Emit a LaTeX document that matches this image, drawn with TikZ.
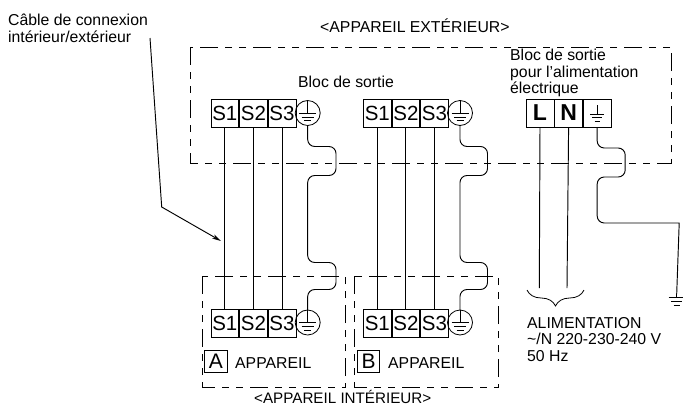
\documentclass[tikz,border=0pt]{standalone}
\usepackage{fontspec}
\setmainfont{Liberation Sans}
\usetikzlibrary{matrix,arrows.meta,decorations.pathreplacing}
\tikzset{
  lbl/.style={inner sep=0pt, anchor=west, align=left, font=\fontsize{15.8}{16.8}\selectfont},
  term/.style={draw, line width=0.8pt, anchor=center, minimum width=27.8pt, minimum height=28pt, inner sep=0pt, outer sep=0pt, font=\fontsize{20.5}{20.5}\selectfont},
  tblock/.style={matrix of nodes, nodes={term}, nodes in empty cells, anchor=west, inner sep=0pt, outer sep=0pt, column sep=0pt},
  unitbox/.style={draw, line width=0.8pt, minimum width=22.5pt, minimum height=22.5pt, inner sep=0pt, font=\fontsize{21}{21}\selectfont},
  zone/.style={line width=0.9pt, dash pattern=on 18pt off 7pt on 7pt off 7pt on 7pt off 7pt},
  wire/.style={line width=0.95pt},
  gwire/.style={line width=0.95pt, rounded corners=7pt},
  pe/.style={circle, draw, line width=0.8pt, minimum size=25pt, inner sep=0pt, outer sep=0pt, path picture={
    \draw[line width=0.8pt, shift={(path picture bounding box.center)}]
      (0,-12.5) -- (0,0) (-8.5,0) -- (8.5,0) (-6,4) -- (6,4) (-3.5,7.5) -- (3.5,7.5);}},
  tgnd/.style={path picture={
    \draw[line width=0.8pt, shift={(path picture bounding box.center)}]
      (0,-8) -- (0,1) (-7,1) -- (7,1) (-5,4.7) -- (5,4.7) (-2.5,8) -- (2.5,8);}},
  earth/.style={minimum size=20pt, inner sep=0pt, outer sep=0pt, path picture={
    \draw[line width=0.8pt, shift={(path picture bounding box.center)}]
      (0,-10) -- (0,-6.3) (-8,-6.3) -- (8,-6.3) (-5.5,-2.8) -- (5.5,-2.8) (-3,1.7) -- (3,1.7);}},
}
\begin{document}
\begin{tikzpicture}[x=1pt, y=-1pt]
  \useasboundingbox (0,0) rectangle (683,405);

  \draw[zone] (190,47) rectangle (671,163);
  \draw[zone] (202,276) rectangle (345,387);
  \draw[zone] (354,276) rectangle (498,387);

  \matrix (oa) [tblock] at (210.5,113) { S1 & S2 & S3 \\ };
  \matrix (ob) [tblock] at (363,113) { S1 & S2 & S3 \\ };
  \matrix (ia) [tblock] at (210.5,323) { S1 & S2 & S3 \\ };
  \matrix (ib) [tblock] at (363,323) { S1 & S2 & S3 \\ };
  \matrix (pw) [tblock, nodes={font=\fontsize{23}{23}\selectfont\bfseries}] at (525.7,113) { L & N & |[tgnd]| \\ };

  \node (oga) [pe] at (307.7,113) {};
  \node (ogb) [pe] at (460,113) {};
  \node (iga) [pe] at (307.7,322.5) {};
  \node (igb) [pe] at (460,322.5) {};
  \node (gnd) [earth] at (676.7,304) {};

  \node (ua) [unitbox] at (216,361.5) {A};
  \node (ub) [unitbox] at (368.5,361.5) {B};
  \node (uatext) [lbl] at (235,363) {APPAREIL};
  \node (ubtext) [lbl] at (388,363) {APPAREIL};

  \node (ext) [lbl] at (320,26) {<APPAREIL EXTÉRIEUR>};
  \node (int) [lbl, font=\fontsize{15.2}{16}\selectfont] at (254,396.5) {<APPAREIL INTÉRIEUR>};
  \node (bloc) [lbl] at (298,82) {Bloc de sortie};
  \node (blocp) [lbl] at (510,73) {Bloc de sortie\\pour l’alimentation\\électrique};
  \node (cable) [lbl] at (8,28.5) {Câble de connexion\\intérieur/extérieur};
  \node (alim) [lbl] at (527,339.5) {ALIMENTATION\\\textasciitilde/N 220-230-240 V\\50 Hz};

  \coordinate (lend) at (539.3,288);
  \coordinate (nend) at (567,288);
  \coordinate (leada) at (150,38);
  \coordinate (leadb) at (161.7,207);
  \coordinate (leadc) at (221,241);
  \coordinate (bracea) at (527,290);
  \coordinate (braceb) at (584,290);

  \path[wire]
  (oa-1-1.south) edge (ia-1-1.north)
  (oa-1-2.south) edge (ia-1-2.north)
  (oa-1-3.south) edge (ia-1-3.north)
  (ob-1-1.south) edge (ib-1-1.north)
  (ob-1-2.south) edge (ib-1-2.north)
  (ob-1-3.south) edge (ib-1-3.north)
  (pw-1-1.south) edge (lend)
  (pw-1-2.south) edge (nend)
  ;
  \draw[gwire] (oga.south) -- ++(0,21) -- ++(28.3,0) -- ++(0,29) -- ++(-28.3,0) -- ++(0,87) -- ++(28.3,0) -- ++(0,27) -- ++(-28.3,0) -- (iga.north);
  \draw[gwire] (ogb.south) -- ++(0,21) -- ++(27.5,0) -- ++(0,29) -- ++(-27.5,0) -- ++(0,87) -- ++(27.5,0) -- ++(0,27) -- ++(-27.5,0) -- (igb.north);
  \draw[gwire] (pw-1-3.south) -- ++(0,21) -- ++(28,0) -- ++(0,29) -- ++(-28,0) -- ++(0,46) [sharp corners] -- ++(82,0) -- (gnd.north);
  \draw[wire, -{Stealth[length=9pt,width=4.5pt]}] (leada) -- (leadb) -- (leadc);
  \draw[line width=0.8pt, decorate, decoration={brace, amplitude=16pt, aspect=0.5}] (braceb) -- (bracea);
\end{tikzpicture}
\end{document}
